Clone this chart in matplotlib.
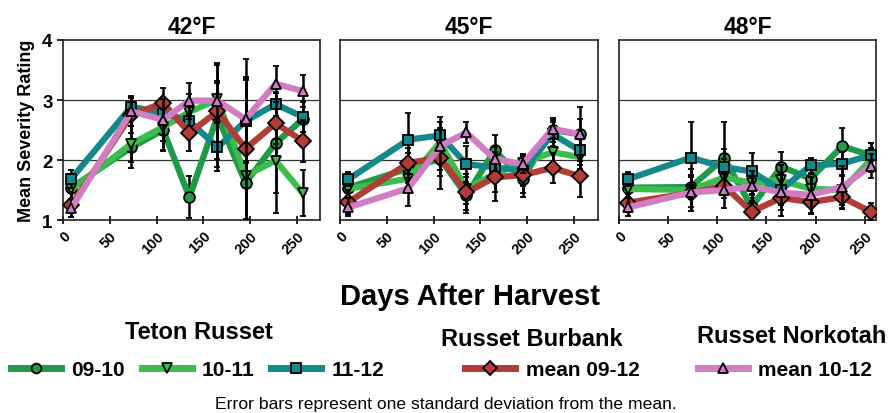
import matplotlib
matplotlib.use("Agg")
import matplotlib.pyplot as plt
from matplotlib.lines import Line2D

plt.rcParams['font.family'] = ['Liberation Sans', 'DejaVu Sans']

days = [9, 73, 107, 135, 165, 195, 227, 256]
temps = ['42°F', '45°F', '48°F']
xmax = [275, 275, 262]

series_names = ['09-10', '10-11', '11-12', 'mean 09-12', 'mean 10-12']
colors = ['#1f9a48', '#3cbc4c', '#13898c', '#b23c36', '#d17dc3']
markers = ['o', 'v', 's', 'D', '^']

# mean severity, one list per temperature
t1010 = {
    '42°F': [1.54, 2.21, 2.50, 1.38, 2.73, 1.62, 2.28, 2.68],
    '45°F': [1.54, 1.86, 2.02, 1.41, 2.16, 1.69, 2.50, 2.43],
    '48°F': [1.54, 1.55, 2.03, 1.22, 1.89, 1.69, 2.23, 2.08],
}
t1011 = {
    '42°F': [1.51, 2.27, 2.55, 2.80, 3.01, 1.74, 1.99, 1.45],
    '45°F': [1.52, 1.69, 2.29, 1.52, 1.77, 1.95, 2.13, 2.05],
    '48°F': [1.52, 1.50, 1.71, 1.62, 1.66, 1.52, 1.50, 2.00],
}
t1112 = {
    '42°F': [1.69, 2.89, 2.78, 2.65, 2.21, 2.65, 2.93, 2.72],
    '45°F': [1.68, 2.34, 2.41, 1.93, 1.88, 1.82, 2.43, 2.16],
    '48°F': [1.68, 2.04, 1.88, 1.81, 1.50, 1.91, 1.94, 2.08],
}
burbank = {
    '42°F': [1.25, 2.75, 2.95, 2.45, 2.81, 2.19, 2.61, 2.32],
    '45°F': [1.30, 1.95, 2.04, 1.46, 1.71, 1.75, 1.87, 1.73],
    '48°F': [1.29, 1.45, 1.57, 1.14, 1.37, 1.30, 1.38, 1.14],
}
norkotah = {
    '42°F': [1.20, 2.81, 2.67, 2.99, 2.99, 2.68, 3.27, 3.15],
    '45°F': [1.21, 1.53, 2.23, 2.46, 2.02, 1.93, 2.52, 2.43],
    '48°F': [1.21, 1.46, 1.50, 1.56, 1.46, 1.42, 1.55, 1.90],
}

# standard deviations
t1010_sd = {
    '42°F': [0.20, 0.35, 0.33, 0.35, 0.85, 0.60, 0.83, 0.30],
    '45°F': [0.20, 0.25, 0.50, 0.30, 0.25, 0.30, 0.20, 0.25],
    '48°F': [0.15, 0.20, 0.60, 0.15, 0.25, 0.20, 0.30, 0.20],
}
t1011_sd = {
    '42°F': [0.25, 0.30, 0.40, 0.30, 0.30, 1.60, 0.88, 0.38],
    '45°F': [0.20, 0.20, 0.25, 0.25, 0.30, 0.15, 0.30, 0.20],
    '48°F': [0.15, 0.35, 0.30, 0.20, 0.25, 0.20, 0.25, 0.20],
}
t1112_sd = {
    '42°F': [0.15, 0.15, 0.20, 0.25, 0.40, 0.70, 0.20, 0.25],
    '45°F': [0.12, 0.45, 0.30, 0.30, 0.25, 0.25, 0.20, 0.25],
    '48°F': [0.12, 0.60, 0.30, 0.30, 0.25, 0.12, 0.20, 0.20],
}
burbank_sd = {
    '42°F': [0.20, 0.30, 0.25, 0.30, 0.80, 1.50, 0.35, 0.35],
    '45°F': [0.20, 0.25, 0.30, 0.30, 0.40, 0.30, 0.25, 0.35],
    '48°F': [0.15, 0.30, 0.20, 0.30, 0.30, 0.20, 0.20, 0.15],
}
norkotah_sd = {
    '42°F': [0.15, 0.25, 0.35, 0.30, 0.30, 0.70, 0.30, 0.27],
    '45°F': [0.15, 0.30, 0.40, 0.17, 0.20, 0.15, 0.15, 0.45],
    '48°F': [0.15, 0.25, 0.30, 0.25, 0.30, 0.30, 0.35, 0.20],
}

all_means = [t1010, t1011, t1112, burbank, norkotah]
all_sds = [t1010_sd, t1011_sd, t1112_sd, burbank_sd, norkotah_sd]

fig = plt.figure(figsize=(8.91, 4.14), dpi=100)
lefts = [0.0707, 0.3816, 0.6947]
axes = []
for i, temp in enumerate(temps):
    ax = fig.add_axes([lefts[i], 0.466, 0.289, 0.435])
    axes.append(ax)
    for j in range(5):
        ax.errorbar(days, all_means[j][temp], yerr=all_sds[j][temp],
                    color=colors[j], lw=4.5, marker=markers[j], ms=7.8,
                    mfc=colors[j], mec='black', mew=1.3,
                    ecolor='black', elinewidth=1.8, capsize=2.5, capthick=1.8,
                    zorder=3 + j)
    ax.set_xlim(0, xmax[i])
    ax.set_ylim(1, 4)
    ax.set_yticks([1, 2, 3, 4])
    ax.set_xticks([0, 50, 100, 150, 200, 250])
    for g in [2, 3]:
        ax.axhline(g, color='#333333', lw=0.9, zorder=1)
    ax.tick_params(axis='x', direction='inout', length=6, width=1.2, pad=3)
    for lab in ax.get_xticklabels():
        lab.set_rotation(45)
        lab.set_fontsize(10.5)
        lab.set_fontweight('bold')
        lab.set_ha('right')
        lab.set_va('top')
        lab.set_rotation_mode('anchor')
    if i == 0:
        ax.tick_params(axis='y', length=4, width=1.2, labelsize=13.5)
        for lab in ax.get_yticklabels():
            lab.set_fontweight('bold')
        ax.set_ylabel('Mean Severity Rating', fontsize=13, fontweight='bold', labelpad=5)
    else:
        ax.tick_params(axis='y', left=False, labelleft=False)
    for sp in ax.spines.values():
        sp.set_linewidth(1.2)
        sp.set_color('#222222')
    ax.set_title(temp, fontsize=16.5, fontweight='bold', pad=5)

fig.text(0.528, 0.283, 'Days After Harvest', ha='center', va='center',
         fontsize=21, fontweight='bold')

handles = [Line2D([], [], color=colors[j], lw=5, marker=markers[j], ms=7,
                  mfc=colors[j], mec='black', mew=1.3) for j in range(5)]

leg_kw = dict(frameon=False, handlelength=2.4, handletextpad=0.5, columnspacing=0.8,
              prop={'weight': 'bold', 'size': 15}, borderaxespad=0)
leg1 = fig.legend(handles[:3], series_names[:3], ncol=3, loc='center',
                  bbox_to_anchor=(0.222, 0.104), **leg_kw)
leg2 = fig.legend(handles[3:4], series_names[3:4], loc='center',
                  bbox_to_anchor=(0.62, 0.104), **leg_kw)
leg3 = fig.legend(handles[4:5], series_names[4:5], loc='center',
                  bbox_to_anchor=(0.881, 0.104), **leg_kw)

fig.text(0.223, 0.196, 'Teton Russet', ha='center', va='center', fontsize=17, fontweight='bold')
fig.text(0.597, 0.179, 'Russet Burbank', ha='center', va='center', fontsize=17, fontweight='bold')
fig.text(0.888, 0.188, 'Russet Norkotah', ha='center', va='center', fontsize=17, fontweight='bold')

fig.text(0.5, 0.024, 'Error bars represent one standard deviation from the mean.',
         ha='center', va='center', fontsize=12.6)

fig.savefig('out.png', dpi=100)
